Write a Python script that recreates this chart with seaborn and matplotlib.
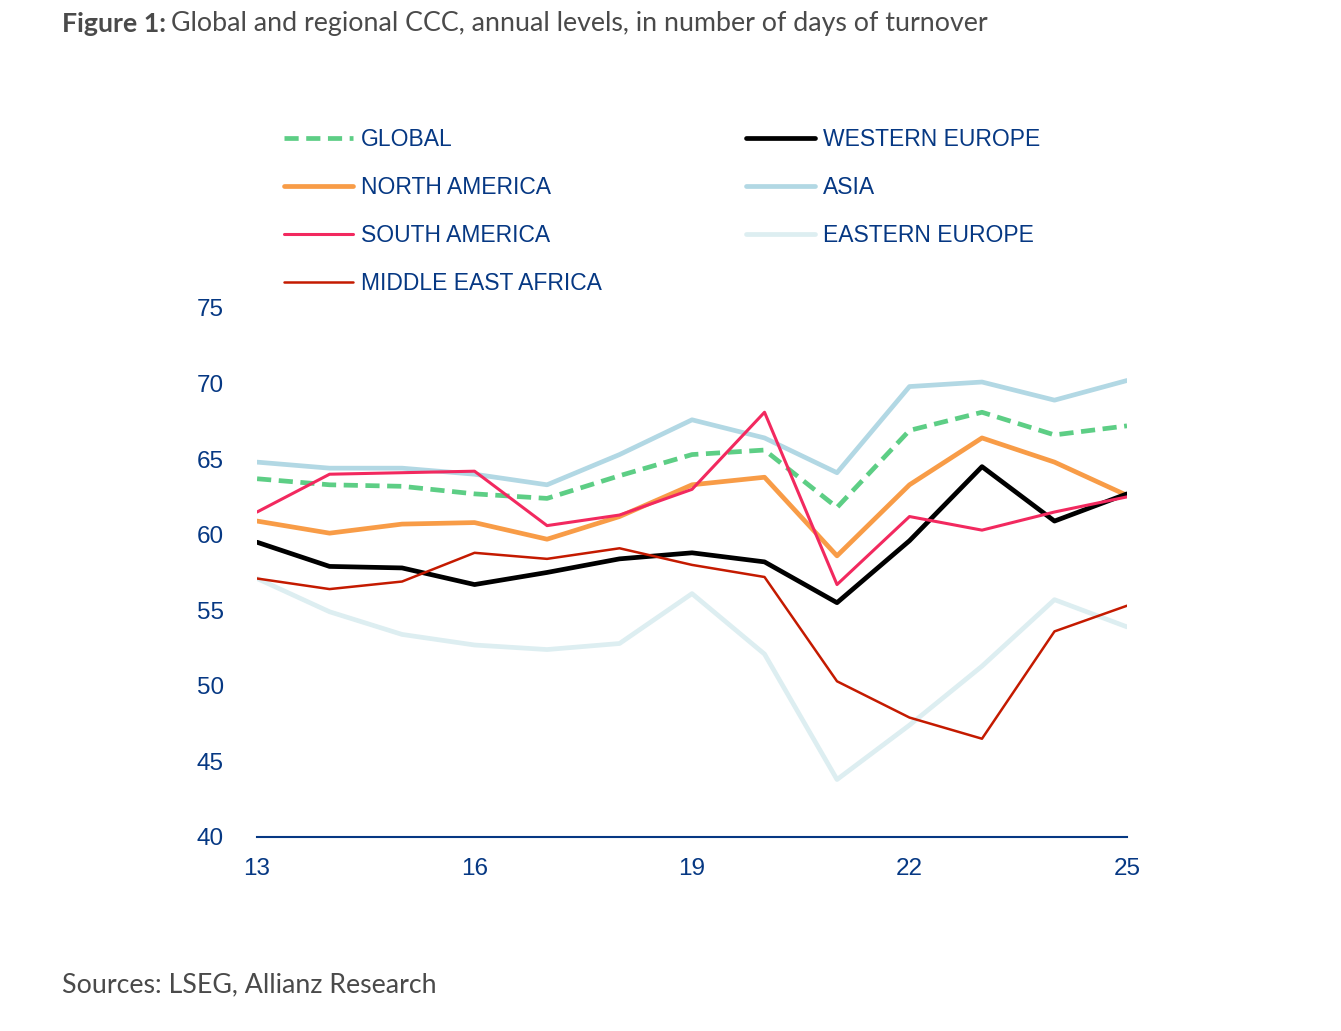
import seaborn as sns
import matplotlib.pyplot as plt
import pandas as pd

years = [13, 14, 15, 16, 17, 18, 19, 20, 21, 22, 23, 24, 25]
global_ccc = [63.7, 63.3, 63.2, 62.7, 62.4, 63.9, 65.3, 65.6, 61.8, 66.9, 68.1, 66.6, 67.2]
north_america = [60.9, 60.1, 60.7, 60.8, 59.7, 61.2, 63.3, 63.8, 58.6, 63.3, 66.4, 64.8, 62.6]
south_america = [61.5, 64.0, 64.1, 64.2, 60.6, 61.3, 63.0, 68.1, 56.7, 61.2, 60.3, 61.5, 62.5]
middle_east_africa = [57.1, 56.4, 56.9, 58.8, 58.4, 59.1, 58.0, 57.2, 50.3, 47.9, 46.5, 53.6, 55.3]
western_europe = [59.5, 57.9, 57.8, 56.7, 57.5, 58.4, 58.8, 58.2, 55.5, 59.6, 64.5, 60.9, 62.7]
asia = [64.8, 64.4, 64.4, 64.0, 63.3, 65.3, 67.6, 66.4, 64.1, 69.8, 70.1, 68.9, 70.2]
eastern_europe = [57.1, 54.9, 53.4, 52.7, 52.4, 52.8, 56.1, 52.1, 43.8, 47.4, 51.3, 55.7, 53.9]

series = {
    'GLOBAL': global_ccc,
    'NORTH AMERICA': north_america,
    'SOUTH AMERICA': south_america,
    'MIDDLE EAST AFRICA': middle_east_africa,
    'WESTERN EUROPE': western_europe,
    'ASIA': asia,
    'EASTERN EUROPE': eastern_europe,
}
styles = {
    'GLOBAL': ('#5dce85', 3.4, (0, (3, 1.6))),
    'NORTH AMERICA': ('#f89c47', 3.4, '-'),
    'SOUTH AMERICA': ('#f2295f', 2.2, '-'),
    'MIDDLE EAST AFRICA': ('#c41a00', 1.8, '-'),
    'WESTERN EUROPE': ('#000000', 3.4, '-'),
    'ASIA': ('#b2d8e4', 3.4, '-'),
    'EASTERN EUROPE': ('#ddeef1', 3.4, '-'),
}
draw_order = ['EASTERN EUROPE', 'ASIA', 'GLOBAL', 'NORTH AMERICA', 'WESTERN EUROPE',
              'MIDDLE EAST AFRICA', 'SOUTH AMERICA']

df = pd.DataFrame({'year': years, **series})

sns.set_style('white')
plt.rcParams['font.family'] = ['Liberation Sans', 'DejaVu Sans']
navy = '#063883'
grey = '#4a4a4a'

fig = plt.figure(figsize=(13.41, 10.31), dpi=100)
ax = fig.add_axes([0.1917, 0.1882, 0.6487, 0.5131])

handles = {}
for name in draw_order:
    color, lw, ls = styles[name]
    sns.lineplot(data=df, x='year', y=name, ax=ax, color=color, linewidth=lw, linestyle=ls)
    handles[name] = ax.lines[-1]

ax.set_xlim(13, 25)
ax.set_ylim(40, 75)
ax.set_xticks([13, 16, 19, 22, 25])
ax.set_yticks(range(40, 80, 5))
ax.set_xlabel('')
ax.set_ylabel('')
for s in ['top', 'right', 'left']:
    ax.spines[s].set_visible(False)
ax.spines['bottom'].set_color(navy)
ax.spines['bottom'].set_linewidth(1.5)
ax.tick_params(axis='both', colors=navy, labelsize=17.5, length=0)
ax.tick_params(axis='x', pad=15)
ax.tick_params(axis='y', pad=24)

order = list(series.keys())
leg = fig.legend([handles[n] for n in order], order, loc='upper left',
                 bbox_to_anchor=(0.205, 0.885), ncol=2, frameon=False,
                 fontsize=16.5, handlelength=3.0, handletextpad=0.35,
                 columnspacing=6.3, labelspacing=1.1, borderaxespad=0)
for t in leg.get_texts():
    t.set_color(navy)

title_font = ['Lato', 'DejaVu Sans']
t1 = fig.text(0.046, 0.977, 'Figure 1:', fontsize=19.3, fontweight='bold', color=grey,
              family=title_font, va='center')
fig.canvas.draw()
bb = t1.get_window_extent()
x_end = bb.x1 / fig.bbox.width
fig.text(x_end + 0.004, 0.977, 'Global and regional CCC, annual levels, in number of days of turnover',
         fontsize=19.3, color=grey, family=title_font, va='center')
fig.text(0.046, 0.045, 'Sources: LSEG, Allianz Research', fontsize=19.3, color=grey,
         family=title_font, va='center')

fig.savefig('out.png', dpi=100)
